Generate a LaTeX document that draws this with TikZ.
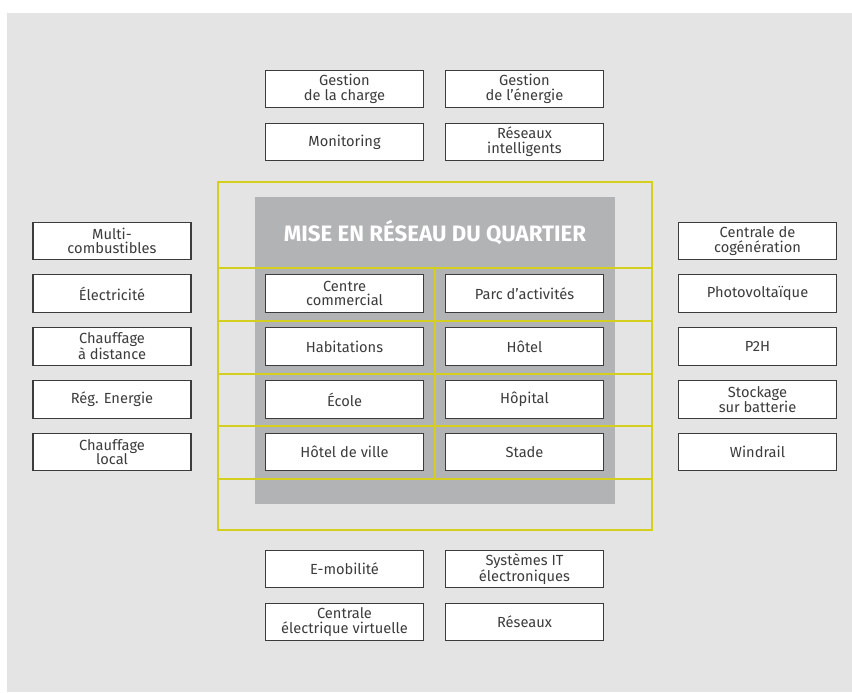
\documentclass[tikz,border=0pt]{standalone}
\usepackage{fontspec}
\setmainfont{Fira Sans}
\usetikzlibrary{positioning}

\definecolor{fond}{HTML}{E3E4E3}
\definecolor{panneau}{HTML}{B1B3B5}
\definecolor{jaune}{HTML}{D4CE1E}
\definecolor{trait}{HTML}{3C3C3C}

\tikzset{
    champ/.style={draw=trait, fill=white, line width=1.1pt, inner sep=0pt,
        minimum width=4.74cm, minimum height=1.12cm, align=center,
        text=trait, font=\fontsize{12.5}{12.5}\selectfont},
    grille/.style={draw=jaune, line width=1.7pt}
}

\begin{document}
\begin{tikzpicture}[x=0.03cm, y=-0.03cm]
    \useasboundingbox (0,0) rectangle (852,692);
    \fill[fond] (7,13) rectangle (852,692);

    % bloc central
    \fill[panneau] (255,197) rectangle (615,504);
    \draw[grille] (218,182) rectangle (652,530);
    \foreach \y in {268,320.75,373.5,426.25,479}
        \draw[grille] (218,\y) -- (652,\y);
    \draw[grille] (435,268) -- (435,479);
    \node[text=white, font=\fontsize{19}{19}\selectfont\bfseries] (titre) at (435,232)
        {MISE EN RÉSEAU DU QUARTIER};

    \node[champ] (centre)   at (344.5,293.5) {Centre\\commercial};
    \node[champ] (parc)     at (524.5,293.5) {Parc d’activités};
    \node[champ] (habit)    at (344.5,346.5) {Habitations};
    \node[champ] (hotel)    at (524.5,346.5) {Hôtel};
    \node[champ] (ecole)    at (344.5,399.5) {École};
    \node[champ] (hopital)  at (524.5,399.5) {Hôpital};
    \node[champ] (mairie)   at (344.5,452)   {Hôtel de ville};
    \node[champ] (stade)    at (524.5,452)   {Stade};

    % en haut
    \node[champ] (charge)   at (344.5,89)  {Gestion\\de la charge};
    \node[champ] (energie)  at (524.5,89)  {Gestion\\de l’énergie};
    \node[champ] (monitor)  at (344.5,142) {Monitoring};
    \node[champ] (smart)    at (524.5,142) {Réseaux\\intelligents};

    % a gauche
    \node[champ] (multi)    at (112,241)   {Multi-\\combustibles};
    \node[champ] (elec)     at (112,293.5) {Électricité};
    \node[champ] (distance) at (112,346.5) {Chauffage\\à distance};
    \node[champ] (reg)      at (112,399.5) {Rég. Energie};
    \node[champ] (local)    at (112,452)   {Chauffage\\local};

    % a droite
    \node[champ] (cogen)    at (757.5,241)   {Centrale de\\cogénération};
    \node[champ] (pv)       at (757.5,293.5) {Photovoltaïque};
    \node[champ] (ptoh)     at (757.5,346.5) {P2H};
    \node[champ] (stock)    at (757.5,399.5) {Stockage\\sur batterie};
    \node[champ] (wind)     at (757.5,452)   {Windrail};

    % en bas
    \node[champ] (emob)     at (344.5,569) {E-mobilité};
    \node[champ] (itsys)    at (524.5,569) {Systèmes IT\\électroniques};
    \node[champ] (virtuel)  at (344.5,622) {Centrale\\électrique virtuelle};
    \node[champ] (reseaux)  at (524.5,622) {Réseaux};
\end{tikzpicture}
\end{document}
